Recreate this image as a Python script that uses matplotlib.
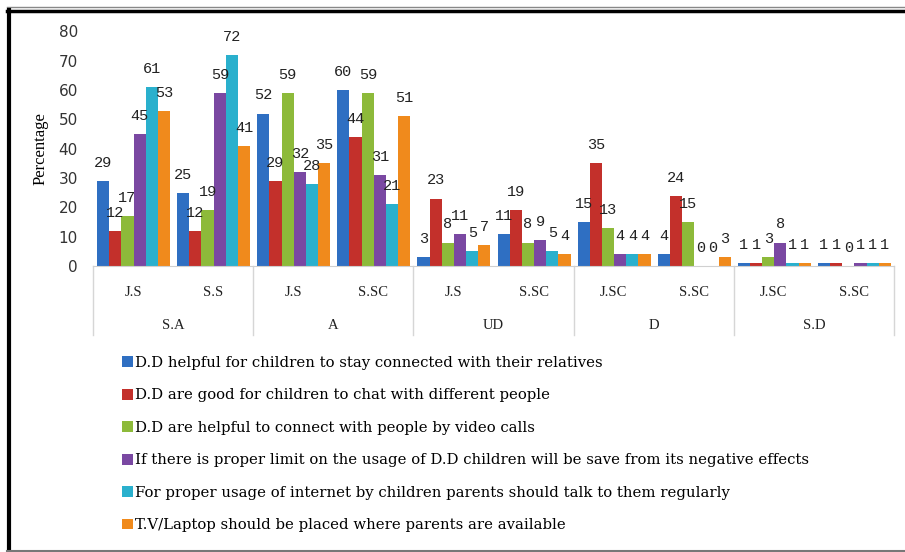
import matplotlib.pyplot as plt
import numpy as np
from matplotlib.lines import Line2D

# categories (two level axis)
groups = ["S.A", "A", "UD", "D", "S.D"]
sub_labels = ["J.S", "S.S", "J.S", "S.SC", "J.S", "S.SC", "J.SC", "S.SC", "J.SC", "S.SC"]

series_names = [
    "D.D helpful for children to stay connected with their relatives",
    "D.D are good for children to chat with different people",
    "D.D are helpful to connect with people by video calls",
    "If there is proper limit on the usage of D.D children will be save from its negative effects",
    "For proper usage of internet by children parents should talk to them regularly",
    "T.V/Laptop should be placed where parents are available",
]

# values per series, one entry per sub category
relatives = [29, 25, 52, 60, 3, 11, 15, 4, 1, 1]
chat = [12, 12, 29, 44, 23, 19, 35, 24, 1, 1]
video = [17, 19, 59, 59, 8, 8, 13, 15, 3, 0]
limit = [45, 59, 32, 31, 11, 9, 4, 0, 8, 1]
talk = [61, 72, 28, 21, 5, 5, 4, 0, 1, 1]
laptop = [53, 41, 35, 51, 7, 4, 4, 3, 1, 1]

colors = ["#2f6fc2", "#c3302b", "#8dba3a", "#7a48a2", "#2ab0cd", "#f08a1c"]


def main():
    series = [relatives, chat, video, limit, talk, laptop]
    fig = plt.figure(figsize=(9.05, 5.52), dpi=100)
    ax = fig.add_axes([0.1028, 0.5181, 0.885, 0.4249])

    x = np.arange(len(sub_labels))
    w = 0.152
    start = -0.5 + 0.05
    handles = []
    for j, (vals, col) in enumerate(zip(series, colors)):
        bars = ax.bar(x + start + w * (j + 0.5), vals, width=w, color=col,
                      edgecolor="none", label=series_names[j])
        handles.append(bars)
        ax.bar_label(bars, padding=8, fontsize=11, family="Liberation Mono", color="#222222")

    ax.set_xlim(-0.5, len(sub_labels) - 0.5)
    ax.set_ylim(0, 80)
    ax.set_yticks(range(0, 81, 10))
    ax.tick_params(axis="y", length=0, labelsize=11, colors="#333333", pad=11)
    ax.set_xticks([])
    for s in ["top", "right", "left"]:
        ax.spines[s].set_visible(False)
    ax.spines["bottom"].set_color("#d0d0d0")
    ax.set_ylabel("Percentage", family="Liberation Serif", fontsize=12, labelpad=7)

    # multi level category axis
    tr = ax.get_xaxis_transform()
    for i, lab in enumerate(sub_labels):
        ax.text(i, -0.111, lab, transform=tr, ha="center", va="center",
                family="Liberation Serif", fontsize=10.5, color="#222222")
    for g, lab in enumerate(groups):
        ax.text(2 * g + 0.5, -0.252, lab, transform=tr, ha="center", va="center",
                family="Liberation Serif", fontsize=10.5, color="#222222")
    for b in np.arange(-0.5, len(sub_labels), 2):
        ax.plot([b, b], [0, -0.294], transform=tr, color="#d6d6d6", lw=1, clip_on=False)

    fig.legend(handles=handles, loc="upper left", bbox_to_anchor=(122 / 905, 1 - 356 / 552),
               frameon=False, prop={"family": "DejaVu Serif", "size": 10.7},
               handlelength=0.75, handleheight=0.75, handletextpad=0.15,
               labelspacing=1.24, borderpad=0, borderaxespad=0)

    # outer frame
    fig.add_artist(Line2D([7 / 905, 1], [1 - 7 / 552, 1 - 7 / 552], transform=fig.transFigure,
                          color="#888888", lw=1))
    fig.add_artist(Line2D([7 / 905, 1], [1 - 11 / 552, 1 - 11 / 552], transform=fig.transFigure,
                          color="black", lw=2.5))
    fig.add_artist(Line2D([9 / 905, 9 / 905], [1 - 10 / 552, 1 / 552], transform=fig.transFigure,
                          color="black", lw=3))
    fig.add_artist(Line2D([7 / 905, 1], [1.5 / 552, 1.5 / 552], transform=fig.transFigure,
                          color="#777777", lw=1.5))

    fig.savefig("out.png", dpi=100, facecolor="white")


if __name__ == "__main__":
    main()
